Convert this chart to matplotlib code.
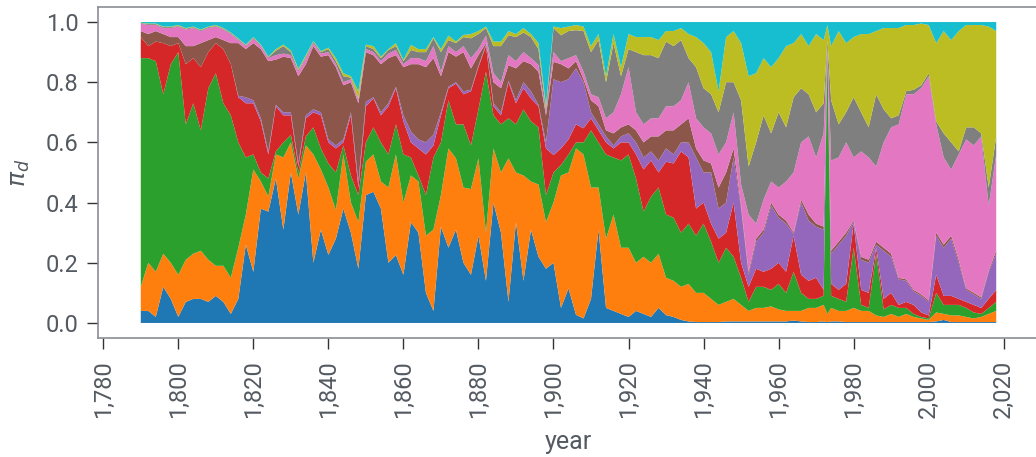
import numpy as np
import matplotlib
matplotlib.use("Agg")
import matplotlib.pyplot as plt
from matplotlib.ticker import StrMethodFormatter, MultipleLocator

# share of each group per year (percent)
years = list(range(1790, 1973, 2)) + [1973] + list(range(1974, 2019, 2))

blue = [4, 4, 2, 12, 8, 2, 7, 8, 8, 7,
        9, 7, 3, 8, 26, 17, 38, 37, 48, 31,
        50, 36, 50, 20, 31, 22.6, 28, 38, 30, 18,
        42.5, 43.6, 38, 20, 22.6, 16, 33.5, 30, 10, 4,
        32, 25, 31, 20, 16, 29, 14, 40, 30, 7,
        33.5, 14, 31, 22, 18, 20, 5, 11.5, 2.7, 1.5,
        8, 31, 5, 4, 3, 2, 4, 3, 2, 5,
        2.6, 2, 1, 0.5, 0.3, 0.3, 0.3, 0.3, 0.5, 0.5,
        0.5, 0.5, 0.5, 0.5, 0.5, 0.5, 0.5, 0.8, 0.5, 0.3,
        0.3, 0.5, 0.3,
        0.5, 0.5, 0.3, 0.3, 0.3, 0.3, 0.3, 0.3, 0.3,
        0.3, 0.3, 0.3, 0.3, 0.3, 0.5, 1, 0.3, 0.3, 0.3, 0.3, 0.3, 0.3, 0.3]
orange = [8, 16, 15, 11, 12, 14, 14, 15, 16, 14,
          10, 12, 12, 17, 10, 34, 9, 5, 8, 24,
          10, 12, 9, 36, 20, 22.4, 9.5, 18, 10, 15.5,
          11.1, 12.4, 9, 25, 33.4, 24, 15.5, 17, 19, 27,
          10.5, 33, 23.7, 25, 28.5, 25.7, 16, 18, 20, 47.7,
          16.5, 35, 16, 24, 15.5, 20, 44, 38.5, 55.3, 54.5,
          37, 14, 23, 32, 22, 23, 16, 19, 18, 18,
          12.4, 12, 11, 12.5, 9.7, 9.7, 7.7, 5.7, 6.5, 7.5,
          5.5, 3.5, 4.5, 4.5, 5, 4, 3.5, 3.2, 3.5, 4.7,
          4.7, 5.5, 2.7,
          4.5, 3.5, 3.7, 4.7, 3.7, 3.7, 2.2, 1.7, 2.7,
          1.7, 2.7, 1.7, 1.2, 0.7, 3, 2, 2.2, 2.2, 1.7, 1.2, 1.7, 2.7, 3.7]
green = [76, 68, 70, 53, 66, 74, 45, 50, 40, 57,
         64, 54, 54, 35, 19, 5, 3, 6, 1, 5,
         2.5, 2, 3, 9, 7, 8, 12.5, 3, 9, 9,
         6.4, 9, 13, 11, 10, 16, 6, 2, 13.5, 24,
         17.5, 16, 11.3, 21, 14.5, 16.3, 53.5, 11, 16, 13.3,
         16, 22, 20, 19, 9, 10, 3.5, 6, 2, 4,
         19, 15, 28, 19, 29, 31, 28, 15, 22, 22,
         21, 21, 18, 20, 19, 23, 19, 14, 18, 14,
         9, 3, 7, 7, 5.5, 8.5, 6, 13, 6, 3,
         3, 3, 87,
         4, 4, 3, 20, 2, 1, 20.5, 2.5, 3,
         3, 2, 1, 0.5, 0.5, 6.5, 3, 3.5, 3.5, 3, 2, 1, 2, 3]
red = [7, 4, 6.5, 17, 6, 3, 20, 15, 21, 12,
       10, 18, 17, 15, 18, 17, 17, 8, 15, 9,
       6.5, 2, 6, 5, 11, 7, 8, 1, 20, 2.5,
       12, 9.6, 9, 16, 12, 11, 5, 9, 13.5, 4,
       9, 4, 13.5, 10, 18, 14, 8.5, 3, 3, 12,
       7, 7, 7.6, 7, 15.5, 5.8, 5.5, 5, 6, 4.7,
       4, 4, 4, 3, 6, 4, 8, 14, 12, 5,
       17.6, 18, 27, 22, 9, 7, 6, 8, 5, 18,
       5, 5, 6, 5, 7, 7, 7, 12, 6, 6,
       7, 2, 0.3,
       4, 3, 6, 8, 5, 5, 2, 3.5, 4,
       1, 2, 3, 1.5, 1, 6, 3, 3, 2, 2, 2.5, 2, 3, 4]
purple = [0, 0, 0, 0, 0, 0, 0, 0, 0, 0,
          0, 0, 0, 0.5, 2, 1, 1, 1, 0.5, 1,
          1, 1, 1, 1, 1, 1, 1, 1, 1, 2,
          1.5, 0.4, 1, 1, 0.5, 2, 3.6, 3, 4, 3.5,
          1, 0.5, 0.5, 1, 0.5, 0.5, 0.5, 1, 1, 0.5,
          1, 2, 2.4, 0.5, 2, 25.2, 22, 20, 18.6, 15.3,
          2, 2, 2, 1, 2, 3, 4, 4, 3, 4,
          4.4, 3, 3, 5, 17, 10, 17, 10, 10, 15,
          18, 4, 9, 13, 21, 15, 16, 0.5, 24, 20,
          17, 20, 0.3,
          10, 15, 16, 0.5, 10, 10, 1, 16, 12,
          8.5, 7, 4.5, 5.5, 4.5, 13, 16, 19, 12, 4, 3.5, 3, 9, 12]
brown = [2, 4, 3.5, 3, 3, 2, 6, 4, 8, 4,
         2, 3, 7, 17.5, 16, 19, 23, 30, 15, 18.5,
         18, 29, 17, 21, 18.5, 28, 26, 18, 10, 26,
         16.5, 14, 16, 15, 10.5, 16, 22.4, 25, 25, 25.5,
         12, 11.5, 8.5, 13, 7.1, 3.5, 0.5, 7, 8, 5.2,
         10.6, 7, 9, 11, 9, 5.8, 6, 3.6, 2.4, 1,
         4, 6, 2, 4, 3, 3, 4, 5, 5, 8,
         6, 8, 6, 8, 3, 4, 3, 7, 10, 3,
         1, 1, 1, 1, 1, 1, 1, 0.5, 1, 2,
         1, 1, 0.2,
         1, 1, 1, 0.5, 1, 1, 1, 1, 1,
         0.5, 0.5, 0.5, 0.5, 0.5, 1, 1, 1, 1, 0.5, 0.5, 0.5, 0.5, 1]
pink = [2.5, 3, 2, 2, 3, 3.5, 5.5, 6, 4, 4,
        3.5, 3.5, 3, 1, 1, 1.5, 1, 1, 1.5, 1,
        1, 1.5, 2, 1, 1, 1, 1, 1, 1, 1,
        1, 1, 1, 1.5, 1.7, 1, 2, 2, 2, 4,
        1.5, 2, 1.5, 2, 3.4, 2, 2.5, 3, 2, 3.3,
        2.4, 3, 2, 2.2, 1, 3.2, 1, 3.4, 2, 2.5,
        2, 3, 4, 7, 11, 19, 6, 6, 6, 6,
        8, 8, 8, 12, 10, 11, 10, 11, 10, 12,
        7, 19, 5, 10, 7, 9, 13, 20, 19, 26,
        22, 31, 1.2,
        30, 28, 30, 21, 35, 34, 25, 35, 42,
        51, 61.5, 65, 68.5, 74.5, 36, 29, 22, 35, 49.5, 49, 53.5, 21.5, 32]
gray = [0.2, 0.3, 0.3, 0.3, 0.3, 0.2, 0.3, 0.3, 0.3, 0.3,
        0.2, 0.3, 0.3, 0.3, 0.3, 0.3, 0.3, 0.3, 1.5, 2.5,
        1, 0.5, 0.5, 0.5, 0.5, 1, 1, 2, 0.5, 0.5,
        1, 1, 1, 1.2, 1.3, 1, 2.7, 2, 3, 2.6,
        6.5, 2, 3, 3, 6.6, 5, 2.5, 9, 12, 6.6,
        8, 6.5, 7, 5.3, 1, 8, 8.6, 9, 8.3, 13.5,
        14, 19, 12, 23, 6, 6, 20, 23, 21, 20,
        21.5, 20, 20, 8, 17, 13, 13, 14, 20, 10,
        28, 16, 27, 28, 16, 25, 18, 25, 18, 14,
        15, 10, 2,
        20, 11, 10, 20, 13, 10, 24, 11, 3,
        3, 1, 1.5, 1, 1, 1, 8, 9, 1, 4, 6, 1, 6, 6]
olive = [0.1, 0.2, 0.2, 0.2, 0.2, 0.3, 0.2, 0.2, 0.2, 0.2,
         0.3, 0.2, 0.2, 0.2, 0.2, 0.2, 0.2, 0.2, 0.5, 0.5,
         0.5, 0.5, 0.5, 0.2, 0.3, 0.5, 1, 1, 0.5, 2.5,
         0.5, 1, 0.5, 0.3, 1, 0.4, 1.7, 1, 1, 0.4,
         1, 1.5, 0.5, 0.7, 1.4, 1, 0.5, 1.5, 1.5, 1.4,
         1, 1.5, 1, 2, 1.4, 0.5, 2.4, 1.5, 1.7, 1.5,
         2, 2, 2, 3, 3, 5, 5, 6, 6, 6,
         3.5, 5, 4, 8, 10, 15, 14, 7, 15, 17,
         19, 30, 23, 19, 22, 18, 27, 18, 18, 16,
         26, 21, 5,
         18, 31, 23, 20, 26, 31, 21, 27, 30,
         29, 22, 21.5, 20.5, 16, 26, 34, 34, 40, 34, 34, 36, 53.5, 35]
cyan = [0.2, 0.5, 0.5, 1.5, 1.5, 1, 2, 1.5, 2.5, 1.5,
        1, 2, 3.5, 5.5, 7.5, 5, 7.5, 11.5, 9, 7.5,
        9.5, 15.5, 11, 6.3, 9.7, 8.5, 12, 17, 18, 23,
        7.5, 8, 11.5, 9, 7, 12.6, 7.6, 9, 9, 5,
        9, 4.5, 6.5, 4.3, 4, 3, 1.5, 6.5, 6.5, 3,
        4, 2, 4, 7, 27.6, 1.5, 2, 1.5, 1, 1.5,
        8, 4, 18, 4, 15, 4, 5, 5, 5, 6,
        3, 3, 2, 4, 5, 7, 10, 23, 5, 3,
        7, 18, 17, 12, 15, 12, 8, 7, 4, 8,
        4, 6, 1,
        8, 3, 7, 5, 4, 4, 3, 2, 2,
        2, 1, 1, 0.5, 1, 7, 3, 6, 3, 1, 1, 1, 1.5, 3]

series = [blue, orange, green, red, purple, brown, pink, gray, olive, cyan]
shares = np.array(series, dtype=float) / 100.0

plt.rcParams['font.family'] = ['Roboto', 'DejaVu Sans']
text_col = '#545a61'

fig = plt.figure(figsize=(10.36, 4.57), dpi=100)
ax = fig.add_axes([0.0946, 0.2604, 0.9083, 0.7243])

ax.stackplot(years, shares, colors=plt.cm.tab10.colors)

ax.set_xlim(1778.6, 2029.4)
ax.set_ylim(-0.05, 1.05)
ax.xaxis.set_major_locator(MultipleLocator(20))
ax.xaxis.set_major_formatter(StrMethodFormatter('{x:,.0f}'))
ax.yaxis.set_major_locator(MultipleLocator(0.2))
ax.yaxis.set_major_formatter(StrMethodFormatter('{x:.1f}'))

ax.tick_params(axis='both', labelsize=17, labelcolor=text_col, length=8,
               width=1, color='#333333', pad=6)
ax.tick_params(axis='x', labelrotation=90, pad=8)
for sp in ax.spines.values():
    sp.set_color('#8a8f94')
    sp.set_linewidth(1.2)

ax.set_xlabel('year', fontsize=18, color=text_col, labelpad=8)
ax.set_ylabel(r'$\pi_d$', fontsize=18, color=text_col, labelpad=10)

fig.savefig('out.png', dpi=100)
